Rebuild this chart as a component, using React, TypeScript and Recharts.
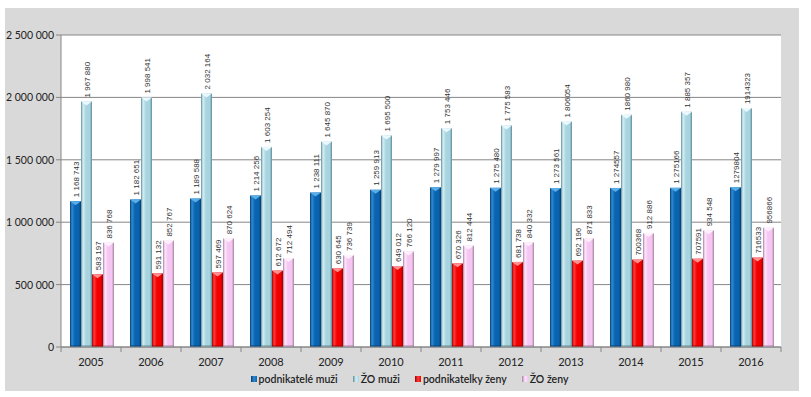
import React from 'react';
import { BarChart, Bar, XAxis, YAxis, CartesianGrid, LabelList } from 'recharts';

const years = ['2005', '2006', '2007', '2008', '2009', '2010', '2011', '2012', '2013', '2014', '2015', '2016'];

const podnikateleMuzi = [1168743, 1182651, 1189588, 1214256, 1238111, 1259913, 1279997, 1275480, 1273561, 1274557, 1275166, 1279804];
const zoMuzi = [1967880, 1998541, 2032164, 1603254, 1645870, 1695500, 1753446, 1775583, 1806054, 1860980, 1885357, 1914323];
const podnikatelkyZeny = [583197, 591132, 597469, 612672, 630645, 649012, 670326, 681738, 692196, 700368, 707591, 716533];
const zoZeny = [836768, 852767, 870624, 712494, 736739, 766120, 812444, 840332, 871833, 912886, 934548, 956866];

const podnikateleMuziLabels = ['1 168 743', '1 182 651', '1 189 588', '1 214 256', '1 238 111', '1 259 913', '1 279 997', '1 275 480', '1 273 561', '1 274557', '1 275166', '1279804'];
const zoMuziLabels = ['1 967 880', '1 998 541', '2 032 164', '1 603 254', '1 645 870', '1 695 500', '1 753 446', '1 775 583', '1 806054', '1860 980', '1 885 357', '1914323'];
const podnikatelkyZenyLabels = ['583 197', '591 132', '597 469', '612 672', '630 645', '649 012', '670 326', '681 738', '692 196', '700368', '707591', '716533'];
const zoZenyLabels = ['836 768', '852 767', '870 624', '712 494', '736 739', '766 120', '812 444', '840 332', '871 833', '912 886', '934 548', '956866'];

const yTicks = [0, 500000, 1000000, 1500000, 2000000, 2500000];

const seriesNames = ['podnikatelé muži', 'ŽO muži', 'podnikatelky ženy', 'ŽO ženy'];

const data = years.map((year, i) => ({
  year,
  pm: podnikateleMuzi[i],
  zm: zoMuzi[i],
  pz: podnikatelkyZeny[i],
  zz: zoZeny[i],
  pmL: podnikateleMuziLabels[i],
  zmL: zoMuziLabels[i],
  pzL: podnikatelkyZenyLabels[i],
  zzL: zoZenyLabels[i],
}));

const CHART_W = 811;
const CHART_H = 397;
const MARGIN = { top: 35, right: 30, bottom: 25, left: 5 };
const Y_AXIS_W = 56;
const PLOT_W = CHART_W - MARGIN.left - MARGIN.right - Y_AXIS_W;
const BAND = PLOT_W / years.length;

const series = [
  { key: 'pm', label: 'pmL', name: seriesNames[0], edge: '#053d6e', main: '#0a63ae', hi: '#2f8bd6', cap: '#5aaee8' },
  { key: 'zm', label: 'zmL', name: seriesNames[1], edge: '#5f8c98', main: '#a8d4e0', hi: '#d6eff6', cap: '#eaf9fd' },
  { key: 'pz', label: 'pzL', name: seriesNames[2], edge: '#9c0000', main: '#f20000', hi: '#ff3c3c', cap: '#ff9090' },
  { key: 'zz', label: 'zzL', name: seriesNames[3], edge: '#a583a0', main: '#f5c6f1', hi: '#ffe6fc', cap: '#fff2fe' },
];

const makeShape = (s: any) => (props: any) => {
  const x = Number(props.x), y = Number(props.y), w = Number(props.width), h = Number(props.height);
  if (!h || h <= 0) return <g />;
  const cap = Math.min(4, h / 2);
  return (
    <g>
      <rect x={x} y={y} width={w} height={h} fill={`url(#grad-${s.key})`} />
      <polygon points={`${x},${y} ${x + w},${y} ${x + w / 2},${y + cap}`} fill={s.cap} />
      <rect x={x} y={y + h - 2} width={w} height={2} fill={s.edge} opacity={0.5} />
    </g>
  );
};

const renderLabel = (props: any) => {
  const x = Number(props.x), y = Number(props.y), w = Number(props.width);
  const cx = x + w / 2 + 1;
  const ty = y - 4;
  return (
    <text
      x={cx}
      y={ty}
      transform={`rotate(-90 ${cx} ${ty})`}
      fontSize={8}
      fontFamily="'Liberation Sans', Arial, sans-serif"
      fill="#333"
      textAnchor="start"
      dominantBaseline="central"
    >
      {props.value}
    </text>
  );
};

const fmt = (v: number) => String(v).replace(/\B(?=(\d{3})+(?!\d))/g, ' ');

const XTick = (props: any) => {
  const { x, y, payload, index } = props;
  const axisY = y - 5;
  return (
    <g>
      <line x1={x - BAND / 2} y1={axisY} x2={x - BAND / 2} y2={axisY + 5} stroke="#868686" />
      {index === years.length - 1 && (
        <line x1={x + BAND / 2} y1={axisY} x2={x + BAND / 2} y2={axisY + 5} stroke="#868686" />
      )}
      <text x={x} y={y + 14} textAnchor="middle" fontSize={11} fontFamily="Lato, sans-serif" fill="#222">
        {payload.value}
      </text>
    </g>
  );
};

const YTick = (props: any) => {
  const { x, y, payload } = props;
  return (
    <text x={x} y={y} textAnchor="end" dominantBaseline="central" fontSize={10.5} fontFamily="Lato, sans-serif" fill="#222">
      {fmt(payload.value)}
    </text>
  );
};

export default function App() {
  return (
    <div style={{ position: 'absolute', left: 0, top: 0, width: CHART_W, height: CHART_H, background: '#fff' }}>
      <div style={{ position: 'absolute', left: 5, top: 8, width: 794, height: 383, background: '#d9d9d9' }} />
      <div style={{ position: 'absolute', left: 0, top: 0 }}>
        <BarChart width={CHART_W} height={CHART_H} data={data} margin={MARGIN} barCategoryGap={9} barGap={0}>
          <defs>
            {series.map((s) => (
              <linearGradient key={s.key} id={`grad-${s.key}`} x1="0" y1="0" x2="1" y2="0">
                <stop offset="0%" stopColor={s.edge} />
                <stop offset="18%" stopColor={s.hi} />
                <stop offset="45%" stopColor={s.main} />
                <stop offset="80%" stopColor={s.main} />
                <stop offset="100%" stopColor={s.edge} />
              </linearGradient>
            ))}
          </defs>
          <CartesianGrid vertical={false} stroke="#868686" fill="#ffffff" />
          <XAxis
            dataKey="year"
            axisLine={{ stroke: '#868686' }}
            tickLine={false}
            tickSize={5}
            tickMargin={0}
            height={25}
            tick={<XTick />}
            interval={0}
          />
          <YAxis
            width={Y_AXIS_W}
            domain={[0, 2500000]}
            ticks={yTicks}
            axisLine={{ stroke: '#868686' }}
            tickLine={{ stroke: '#868686' }}
            tickSize={5}
            tickMargin={2}
            tick={<YTick />}
            interval={0}
          />
          {series.map((s) => (
            <Bar key={s.key} dataKey={s.key} name={s.name} isAnimationActive={false} shape={makeShape(s)}>
              <LabelList dataKey={s.label} content={renderLabel} />
            </Bar>
          ))}
        </BarChart>
      </div>
      <div
        style={{
          position: 'absolute',
          left: 8,
          top: 373,
          width: 803,
          display: 'flex',
          justifyContent: 'center',
          alignItems: 'center',
          gap: 15,
          fontFamily: 'Lato, sans-serif',
          fontSize: 10.5,
          fontWeight: 600,
          color: '#222',
        }}
      >
        {series.map((s) => (
          <div key={s.key} style={{ display: 'flex', alignItems: 'center', gap: 2 }}>
            <span style={{ display: 'inline-block', width: 6, height: 6, background: `linear-gradient(90deg, ${s.edge}, ${s.hi}, ${s.main})` }} />
            <span>{s.name}</span>
          </div>
        ))}
      </div>
    </div>
  );
}
